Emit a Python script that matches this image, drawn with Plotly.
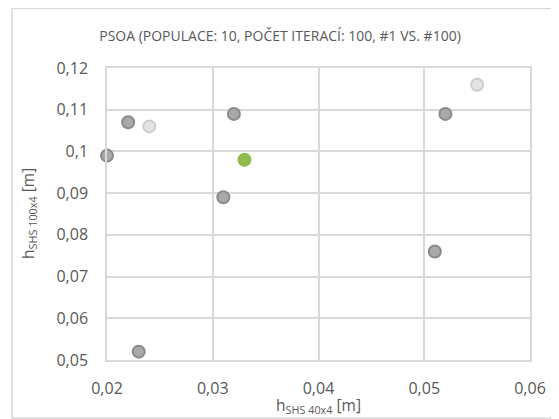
import plotly.graph_objects as go

# Data
x_first = [0.020, 0.022, 0.023, 0.031, 0.032, 0.051, 0.052]
y_first = [0.099, 0.107, 0.052, 0.089, 0.109, 0.076, 0.109]
x_light = [0.024, 0.055]
y_light = [0.106, 0.116]
x_best = [0.033]
y_best = [0.098]

x_tickvals = [0.02, 0.03, 0.04, 0.05, 0.06]
x_ticktext = ["0,02", "0,03", "0,04", "0,05", "0,06"]
y_tickvals = [0.05, 0.06, 0.07, 0.08, 0.09, 0.10, 0.11, 0.12]
y_ticktext = ["0,05", "0,06", "0,07", "0,08", "0,09", "0,1", "0,11", "0,12"]

FONT = "Open Sans"
TXT = "#595959"
GRID = "#d9d9d9"
# the page body has an 8px margin, so the figure is drawn 8px smaller and
# every pixel position is expressed relative to the figure's own corner
OFF = 8
W, H = 559 - OFF, 419 - OFF
PL, PR, PT, PB = 107 - OFF, 530 - OFF, 68 - OFF, 360 - OFF  # plot area

fig = go.Figure()
fig.add_trace(go.Scatter(
    x=x_light, y=y_light, mode="markers", cliponaxis=False,
    marker=dict(size=12, color="#e4e4e4", line=dict(color="#cccccc", width=2)),
    showlegend=False, hoverinfo="skip"))
fig.add_trace(go.Scatter(
    x=x_first, y=y_first, mode="markers", cliponaxis=False,
    marker=dict(size=12, color="#a9a9a9", line=dict(color="#8a8a8a", width=2)),
    showlegend=False, hoverinfo="skip"))
fig.add_trace(go.Scatter(
    x=x_best, y=y_best, mode="markers", cliponaxis=False,
    marker=dict(size=14, color="#8fbc4c", line=dict(color="#8fbc4c", width=0)),
    showlegend=False, hoverinfo="skip"))
# empty trace that creates the full-figure overlay axes used for the frame
fig.add_trace(go.Scatter(x=[], y=[], xaxis="x2", yaxis="y2",
                         showlegend=False, hoverinfo="skip"))

fig.update_layout(
    width=W, height=H,
    margin=dict(l=0, r=0, t=0, b=0, autoexpand=False),
    paper_bgcolor="white", plot_bgcolor="rgba(0,0,0,0)",
    font=dict(family=FONT, color=TXT, size=15),
    title=dict(text="PSOA (POPULACE: 10, POČET ITERACÍ: 100, #1 VS. #100)",
               x=(280 - OFF) / W, xref="container", xanchor="center",
               y=1 - (36 - OFF) / H, yref="container", yanchor="middle",
               font=dict(family=FONT, size=14, color=TXT)),
    xaxis=dict(domain=[PL / W, PR / W], automargin=False,
               range=[0.02, 0.06], tickvals=x_tickvals, ticktext=x_ticktext,
               showgrid=True, gridcolor=GRID, gridwidth=1.5,
               zeroline=False, showline=True, linecolor=GRID, linewidth=1.5,
               mirror=True, ticks="", tickfont=dict(size=16, color=TXT),
               ticklabelstandoff=13),
    yaxis=dict(domain=[1 - PB / H, 1 - PT / H], automargin=False,
               range=[0.05, 0.12], tickvals=y_tickvals, ticktext=y_ticktext,
               showgrid=True, gridcolor=GRID, gridwidth=1.5,
               zeroline=False, showline=True, linecolor=GRID, linewidth=1.5,
               mirror=True, ticks="", tickfont=dict(size=16, color=TXT),
               ticklabelstandoff=14),
    xaxis2=dict(domain=[0, 1], range=[0, W], anchor="y2", visible=False,
                fixedrange=True),
    yaxis2=dict(domain=[0, 1], range=[H, 0], anchor="x2", visible=False,
                fixedrange=True),
    annotations=[
        dict(text="h<sub>SHS 40x4</sub> [m]", xref="paper", yref="paper",
             x=(PL + PR) / 2 / W, y=1 - (405 - OFF) / H, xanchor="center",
             yanchor="middle", showarrow=False,
             font=dict(family=FONT, size=15.5, color=TXT)),
        dict(text="h<sub>SHS 100x4</sub> [m]", xref="paper", yref="paper",
             x=(28 - OFF) / W, y=1 - (PT + PB) / 2 / H, xanchor="center",
             yanchor="middle", showarrow=False, textangle=-90,
             font=dict(family=FONT, size=15.5, color=TXT)),
    ],
)

# Outer chart-area frame
fig.add_shape(type="rect", xref="x2", yref="y2",
              x0=12 - OFF, x1=W + 20, y0=0.5, y1=418 - OFF,
              line=dict(color=GRID, width=1.5), fillcolor="rgba(0,0,0,0)",
              layer="above")

fig.write_html("out.html")
